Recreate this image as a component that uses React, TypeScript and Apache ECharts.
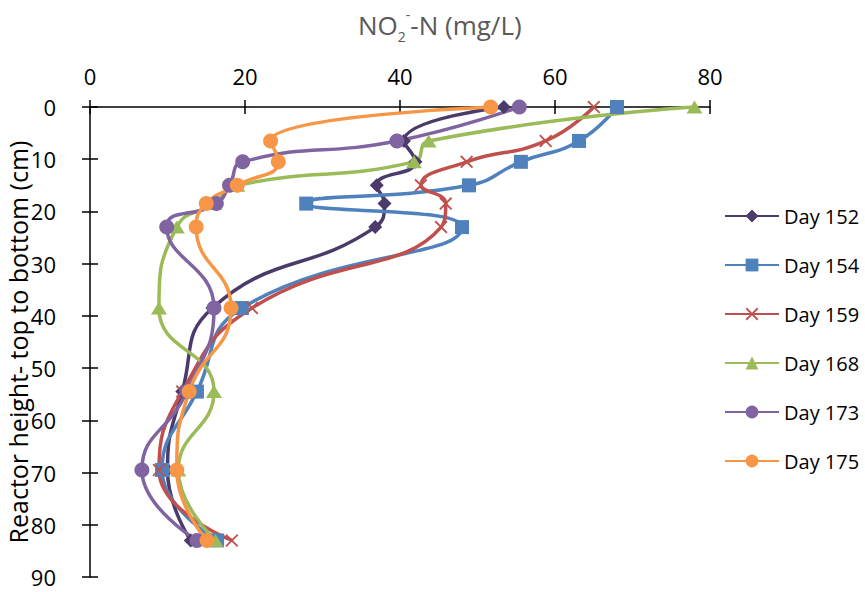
import React, { useEffect, useRef } from "react";
import * as echarts from "echarts";

const depths = [0, 6.5, 10.5, 15, 18.5, 23, 38.5, 54.5, 69.5, 83];
const seriesNames = ["Day 152", "Day 154", "Day 159", "Day 168", "Day 173", "Day 175"];
const day152 = [53.4, 40.5, 42, 37, 38, 36.8, 15.8, 11.9, 10, 13];
const day154 = [68, 63.1, 55.6, 48.9, 27.9, 48, 19.6, 13.8, 9.3, 16.4];
const day159 = [65, 58.8, 48.6, 42.7, 45.9, 45.3, 20.9, 11.9, 8.9, 18.3];
const day168 = [78, 43.7, 41.8, 19, 16, 11.2, 8.9, 16, 11.4, 16.2];
const day173 = [55.4, 39.6, 19.7, 18, 16.3, 9.9, 16, 12.5, 6.7, 13.8];
const day175 = [51.7, 23.3, 24.3, 19, 15, 13.7, 18.2, 12.8, 11.2, 15.1];
const xTicks = { min: 0, max: 80, interval: 20 };
const yTicks = { min: 0, max: 90, interval: 10 };

const FONT = "'Open Sans', 'Noto Sans', sans-serif";
const CROSS = "path://M1,0 L5,4 L9,0 L10,1 L6,5 L10,9 L9,10 L5,6 L1,10 L0,9 L4,5 L0,1 Z";

export default function App() {
  const ref = useRef<HTMLDivElement>(null);
  useEffect(() => {
    if (!ref.current) return;
    const chart = echarts.init(ref.current, undefined, { renderer: "svg" });
    const values = [day152, day154, day159, day168, day173, day175];
    const colors = ["#4B3B6B", "#4F81BD", "#C0504D", "#9BBB59", "#8064A2", "#F79646"];
    const symbols: any[] = ["diamond", "rect", CROSS, "triangle", "circle", "circle"];
    const sizes: any[] = [14, 14, 13, [16, 13], 15, 15];
    const series = values.map((vals, i) => ({
      type: "line",
      name: seriesNames[i],
      data: vals.map((v, j) => [v, depths[j]]),
      smooth: 0.5,
      symbol: symbols[i],
      symbolSize: sizes[i],
      showSymbol: true,
      lineStyle: { width: 3.5, color: colors[i] },
      itemStyle: { color: colors[i] },
      xAxisIndex: 0,
      yAxisIndex: 0,
    }));
    const axisCommonLine = { show: true, onZero: false, lineStyle: { color: "#000", width: 1.5 } };
    chart.setOption({
      animation: false,
      backgroundColor: "#fff",
      title: {
        text: "{a|NO}{b|2}{c|-}{a|-N (mg/L)}",
        left: 358,
        top: 7,
        padding: 0,
        textStyle: {
          fontWeight: "normal",
          color: "#595959",
          rich: {
            a: { fontSize: 26, fontFamily: FONT, fontWeight: "normal", color: "#595959", lineHeight: 36, verticalAlign: "middle" },
            b: { fontSize: 14, fontFamily: FONT, fontWeight: "normal", color: "#595959", lineHeight: 8, verticalAlign: "bottom" },
            c: { fontSize: 14, fontFamily: FONT, fontWeight: "normal", color: "#595959", lineHeight: 20, verticalAlign: "top" },
          },
        },
      },
      legend: {
        orient: "vertical",
        left: 724,
        top: 206,
        padding: 0,
        itemWidth: 54,
        itemHeight: 16,
        itemGap: 29,
        data: seriesNames,
        textStyle: { fontSize: 20, fontFamily: FONT, color: "#000" },
      },
      grid: { left: 90, right: 155, top: 107, bottom: 15, containLabel: false, outerBoundsMode: "none" },
      xAxis: [
        {
          type: "value",
          position: "top",
          ...xTicks,
          axisLine: axisCommonLine,
          axisTick: { show: true, inside: false, length: 7, lineStyle: { color: "#000", width: 1.5 } },
          axisLabel: { fontSize: 22, fontFamily: FONT, color: "#000", margin: 20 },
          splitLine: { show: false },
        },
        {
          type: "value",
          position: "top",
          ...xTicks,
          axisLine: { show: false, onZero: false },
          axisTick: { show: true, inside: true, length: 7, lineStyle: { color: "#000", width: 1.5 } },
          axisLabel: { show: false },
          splitLine: { show: false },
        },
      ],
      yAxis: [
        {
          type: "value",
          position: "left",
          inverse: true,
          ...yTicks,
          axisLine: axisCommonLine,
          axisTick: { show: true, inside: false, length: 8, lineStyle: { color: "#000", width: 1.5 } },
          axisLabel: { fontSize: 22, fontFamily: FONT, color: "#000", margin: 34 },
          splitLine: { show: false },
          name: "Reactor height- top to bottom (cm)",
          nameLocation: "middle",
          nameRotate: 90,
          nameGap: 60,
          nameMoveOverlap: false,
          nameTextStyle: { fontSize: 25, fontFamily: FONT, color: "#000" },
        },
        {
          type: "value",
          position: "left",
          inverse: true,
          ...yTicks,
          axisLine: { show: false, onZero: false },
          axisTick: { show: true, inside: true, length: 8, lineStyle: { color: "#000", width: 1.5 } },
          axisLabel: { show: false },
          splitLine: { show: false },
        },
      ],
      series,
    });
    return () => chart.dispose();
  }, []);
  return (
    <div
      ref={ref}
      style={{ position: "fixed", left: 0, top: 0, width: 865, height: 592, background: "#fff" }}
    />
  );
}
